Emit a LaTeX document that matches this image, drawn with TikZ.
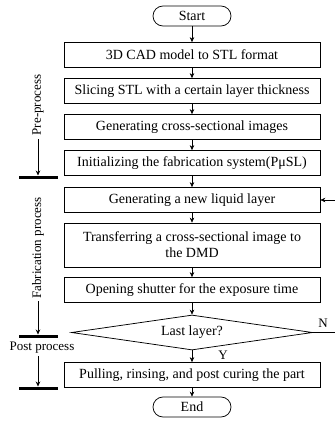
\documentclass[tikz,border=0pt]{standalone}
\usepackage{fontspec}
\setmainfont{Liberation Serif}
\usetikzlibrary{arrows.meta,shapes.geometric}

\begin{document}
\begin{tikzpicture}[x=1pt,y=-1pt,
  boxtext/.style={font=\fontsize{14}{16}\selectfont},
  sidetext/.style={font=\fontsize{13}{15}\selectfont},
  proc/.style={boxtext, draw, line width=0.75pt, minimum width=256pt,
    minimum height=25pt, inner sep=0pt, align=center},
  term/.style={boxtext, draw, line width=0.75pt, rounded corners=10pt,
    minimum width=78pt, minimum height=20pt, inner sep=0pt},
  decision/.style={boxtext, draw, line width=0.75pt, diamond, aspect=6.9,
    minimum width=241pt, minimum height=35pt, inner sep=0pt},
  conn/.style={line width=0.6pt, -{Stealth[length=5pt,width=4.5pt]}},
  bar/.style={line width=3pt},
]
\useasboundingbox (0,0) rectangle (335,421);

% main flow
\node[term] (start) at (192,16) {Start};
\node[proc] (b1) at (192,55) {3D CAD model to STL format};
\node[proc] (b2) at (192,91) {Slicing STL with a certain layer thickness};
\node[proc] (b3) at (192,127) {Generating cross-sectional images};
\node[proc] (b4) at (192,163) {Initializing the fabrication system(PμSL)};
\node[proc] (b5) at (192,200) {Generating a new liquid layer};
\node[proc, minimum height=44pt] (b6) at (192,245)
  {Transferring a cross-sectional image to\\the DMD};
\node[proc] (b7) at (192,290) {Opening shutter for the exposure time};
\node[decision] (dec) at (192,332.5) {Last layer?};
\node[proc] (b8) at (192,375) {Pulling, rinsing, and post curing the part};
\node[term] (end) at (192,407) {End};

\draw[conn] (start) -- (b1);
\draw[conn] (b1) -- (b2);
\draw[conn] (b2) -- (b3);
\draw[conn] (b3) -- (b4);
\draw[conn] (b4) -- (b5);
\draw[conn] (b5) -- (b6);
\draw[conn] (b6) -- (b7);
\draw[conn] (b7) -- (dec);
\draw[conn] (dec) -- (b8);
\draw[conn] (b8) -- (end);

% loop back for the next layer
\coordinate (loop) at (336,332.5);
\draw[conn] (dec.east) -- (loop) |- (b5.east);
\node[sidetext] (nlab) at (323,323) {N};
\node[sidetext] (ylab) at (223,355) {Y};

% process stages on the left
\node[sidetext, rotate=90] (pre) at (38,105) {Pre-process};
\coordinate (a1s) at (38,139);
\coordinate (a1e) at (38,175.5);
\draw[conn] (a1s) -- (a1e);
\coordinate (bar1l) at (19,177);
\coordinate (bar1r) at (58,177);
\draw[bar] (bar1l) -- (bar1r);

\node[sidetext, rotate=90] (fab) at (38,248) {Fabrication process};
\coordinate (a2s) at (38,301);
\coordinate (a2e) at (38,334.5);
\draw[conn] (a2s) -- (a2e);
\coordinate (bar2l) at (19,336);
\coordinate (bar2r) at (58,336);
\draw[bar] (bar2l) -- (bar2r);

\node[sidetext] (post) at (42,348) {Post process};
\coordinate (a3s) at (38,356);
\coordinate (a3e) at (38,386.5);
\draw[conn] (a3s) -- (a3e);
\coordinate (bar3l) at (19,388);
\coordinate (bar3r) at (58,388);
\draw[bar] (bar3l) -- (bar3r);
\end{tikzpicture}
\end{document}
